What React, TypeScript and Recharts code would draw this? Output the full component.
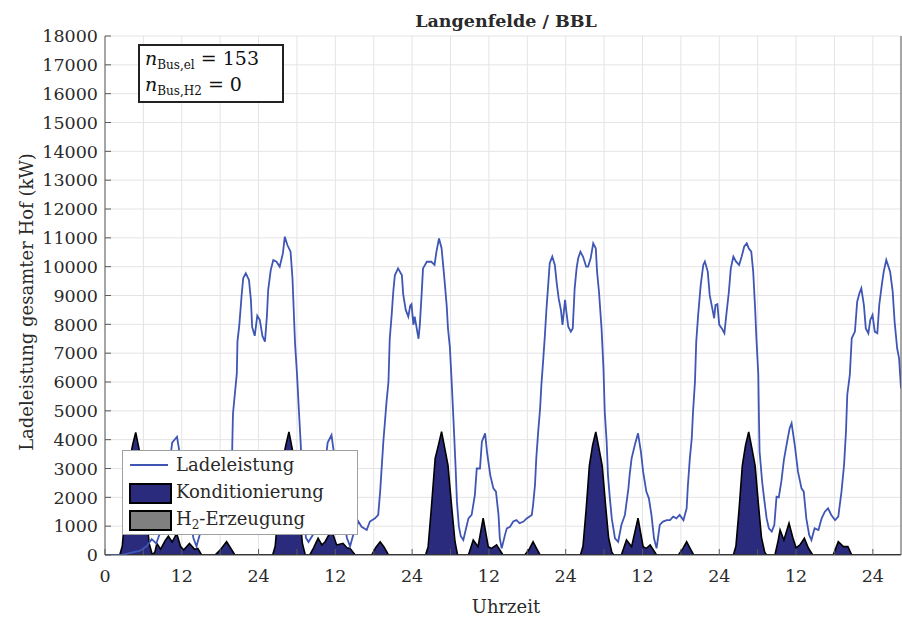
import React from "react";
import { ComposedChart, Line, Area, XAxis, YAxis, CartesianGrid } from "recharts";

// Ladeleistung (kW) over hours
const ladeHours = [
  0, 2.6, 5.5, 6.5, 7.3, 8.0, 8.5, 9.0, 9.6, 10.0, 10.5, 11.25, 11.7, 12.3, 12.8, 13.3, 13.8, 14.3, 14.8, 15.3,
  16.0, 17.0, 18.0, 19.0, 19.7, 19.9, 20.0, 20.3, 20.6, 20.7, 21.0, 21.35, 21.6, 22.0, 22.5, 22.8, 23.0, 23.4, 23.8, 24.2,
  24.6, 25.0, 25.3, 25.5, 25.9, 26.3, 26.8, 27.3, 27.8, 28.1, 28.5, 29.0, 29.3, 29.7, 30.0, 30.3, 30.6, 31.0, 31.4, 31.8,
  32.5, 33.0, 33.5, 33.9, 34.3, 34.8, 35.4, 35.8, 36.3, 36.8, 37.3, 37.8, 38.3, 38.8, 39.6, 40.1, 40.9, 41.4, 42.2, 42.7,
  43.0, 43.2, 43.5, 43.75, 44.0, 44.3, 44.5, 44.8, 45.05, 45.3, 45.8, 46.4, 46.6, 47.0, 47.4, 47.7, 47.9, 48.2, 48.4, 49.0,
  49.2, 49.5, 49.7, 50.3, 51.0, 51.5, 51.8, 52.2, 52.6, 53.0, 53.4, 53.6, 53.9, 54.2, 54.5, 54.8, 55.0, 55.3, 55.6, 56.0,
  56.8, 57.3, 57.8, 58.1, 58.6, 58.9, 59.4, 59.7, 60.2, 60.7, 61.1, 61.5, 61.7, 62.0, 62.5, 62.8, 63.3, 63.8, 64.3, 64.8,
  65.4, 65.9, 66.7, 66.9, 67.2, 67.4, 67.7, 68.0, 68.2, 68.5, 68.75, 69.0, 69.3, 69.5, 69.9, 70.3, 70.6, 70.9, 71.25, 71.5,
  71.9, 72.1, 72.4, 72.8, 73.1, 73.4, 73.7, 73.95, 74.3, 74.7, 75.2, 75.5, 75.9, 76.3, 76.7, 76.9, 77.2, 77.6, 77.9, 78.1,
  78.4, 78.6, 78.9, 79.2, 79.7, 80.2, 80.7, 81.25, 81.8, 82.0, 82.3, 82.8, 83.3, 83.75, 84.1, 84.6, 85.0, 85.4, 85.8, 86.2,
  86.7, 87.2, 87.8, 88.3, 88.8, 89.3, 89.8, 90.4, 90.9, 91.1, 91.4, 91.7, 91.9, 92.2, 92.4, 92.7, 93.1, 93.5, 93.75, 94.2,
  94.5, 94.9, 95.2, 95.4, 95.7, 96.0, 96.4, 96.8, 97.1, 97.5, 97.8, 98.2, 98.6, 99.1, 99.5, 99.9, 100.3, 100.6, 101.0, 101.3,
  101.6, 101.8, 102.1, 102.2, 102.3, 102.7, 103.0, 103.4, 103.75, 104.2, 104.6, 104.95, 105.3, 105.7, 106.1, 106.5, 107.0, 107.3, 107.8, 108.3,
  108.85, 109.2, 109.6, 110.05, 110.4, 110.9, 111.5, 112.0, 112.5, 113.0, 113.5, 114.1, 114.6, 115.1, 115.5, 115.8, 116.0, 116.4, 116.7, 117.2,
  117.55, 117.9, 118.2, 118.6, 118.9, 119.3, 119.6, 119.95, 120.3, 120.7, 121.0, 121.4, 121.7, 122.1, 122.7, 123.1, 123.4, 123.8, 124.1, 124.4,
];
const ladeKW = [
  0, 0, 150, 300, 550, 400, 700, 1300, 2000, 3000, 3900, 4100, 3500, 2700, 2250, 1400, 600, 300, 700, 1000,
  1100, 1200, 1250, 1350, 1500, 3900, 4900, 5600, 6300, 7400, 8000, 9000, 9600, 9770, 9540, 8850, 7900, 7600, 8300, 8150,
  7600, 7400, 8270, 9190, 9880, 10230, 10170, 10000, 10460, 11040, 10750, 10520, 9600, 7340, 6300, 5030, 3800, 1500, 600, 450,
  700, 1000, 1400, 2100, 3000, 3900, 4160, 3500, 2800, 2300, 1400, 600, 300, 700, 1160, 980, 870, 1160, 1270, 1390,
  2200, 2890, 3930, 4620, 5320, 6010, 7500, 8320, 9130, 9700, 9940, 9700, 9050, 8500, 8270, 8650, 8700, 7980, 8270, 7500,
  7980, 9110, 9940, 10170, 10170, 10060, 10520, 10980, 10640, 9690, 8650, 7860, 7200, 5900, 4500, 3000, 1850, 1000, 650, 520,
  1270, 1390, 2080, 3000, 3000, 3930, 4220, 3580, 2780, 2310, 2200, 1390, 580, 230, 690, 925, 980, 1160, 1210, 1100,
  1160, 1270, 1390, 1730, 2430, 3350, 4280, 5090, 5900, 6820, 7630, 8560, 9480, 10120, 10350, 10060, 9420, 8900, 8500, 7980,
  8850, 8440, 7920, 7750, 7860, 9250, 9940, 10290, 10520, 10350, 10000, 10000, 10290, 10810, 10640, 9830, 9130, 7860, 6480, 4970,
  3930, 2780, 1970, 1270, 580, 460, 1040, 1390, 2310, 2800, 3350, 3815, 4220, 3585, 2890, 2200, 1965, 1390, 580, 230,
  1040, 1160, 1210, 1210, 1330, 1270, 1390, 1210, 1620, 2430, 3350, 4050, 4970, 6010, 7400, 8330, 9370, 10060, 10180, 9830,
  9020, 8560, 8210, 8670, 8700, 7980, 7860, 7690, 8330, 9130, 9940, 10350, 10180, 10060, 10350, 10700, 10810, 10640, 10520, 9830,
  8560, 7520, 6250, 4740, 3590, 2540, 1970, 1270, 925, 810, 1040, 2020, 2000, 2550, 3300, 3800, 4400, 4570, 3815, 2890,
  2312, 2197, 1272, 694, 520, 925, 867, 1272, 1503, 1618, 1387, 1213, 1330, 2197, 3122, 4277, 5549, 6245, 7515, 7747,
  8786, 9076, 9250, 8671, 7860, 7690, 8152, 8325, 7747, 7690, 8671, 9365, 9827, 10232, 9827, 9134, 8094, 7170, 6822, 5780,
];

// Konditionierung (kW)
const kondHours = [
  0, 2.3, 2.7, 3.2, 3.8, 4.3, 4.8, 5.3, 5.8, 6.4, 6.9, 7.4, 7.8, 8.1, 8.7, 9.4, 9.9, 10.5, 11.2, 11.8,
  12.3, 13.2, 14.0, 14.5, 15.1, 17.2, 18.1, 19.0, 19.6, 20.3, 26.2, 26.6, 27.1, 27.7, 28.25, 28.75, 29.25, 29.75, 30.35, 30.85,
  31.3, 32.0, 32.6, 33.3, 33.9, 34.4, 35.4, 36.2, 37.2, 37.8, 38.3, 39.1, 41.7, 42.3, 43.0, 43.6, 44.3, 50.1, 50.5, 51.0,
  51.6, 52.1, 52.6, 53.1, 53.6, 54.2, 54.7, 55.1, 56.8, 57.55, 58.3, 59.1, 59.9, 60.4, 61.2, 62.2, 65.6, 66.3, 66.9, 67.4,
  68.0, 74.3, 74.7, 75.2, 75.7, 76.2, 76.7, 77.2, 77.7, 78.2, 78.7, 79.2, 79.5, 80.7, 81.5, 82.3, 83.3, 84.1, 84.6, 85.2,
  86.2, 89.6, 90.3, 90.9, 91.4, 92.0, 98.2, 98.6, 99.1, 99.6, 100.1, 100.6, 101.1, 101.6, 102.1, 102.6, 103.1, 103.4, 104.7, 105.2,
  105.5, 106.1, 106.9, 107.5, 108.0, 108.6, 109.3, 109.9, 110.6, 113.8, 114.6, 115.4, 116.1, 116.7, 124.4,
];
const kondKW = [
  0, 0, 300, 1600, 3200, 3800, 4250, 3700, 3100, 1600, 400, 0, 100, 400, 200, 500, 650, 450, 750, 300,
  170, 400, 200, 230, 0, 0, 200, 460, 250, 0, 0, 300, 1600, 3200, 3800, 4270, 3700, 3100, 1600, 400,
  0, 0, 250, 580, 350, 460, 870, 350, 405, 250, 230, 0, 0, 250, 460, 280, 0, 0, 290, 1620,
  3350, 3800, 4280, 3700, 3120, 1620, 460, 0, 0, 520, 290, 1280, 290, 230, 350, 0, 0, 200, 460, 250,
  0, 0, 300, 1600, 3100, 3800, 4270, 3700, 3100, 1800, 600, 100, 0, 0, 520, 290, 1280, 290, 230, 350,
  0, 0, 220, 460, 250, 0, 0, 300, 1600, 3100, 3800, 4270, 3700, 3100, 1800, 600, 100, 0, 0, 500,
  870, 520, 1100, 600, 250, 350, 580, 250, 0, 0, 460, 290, 290, 0, 0,
];

// H2-Erzeugung (kW)
const h2Hours = [0, 124.4];
const h2KW = [0, 0];

const xTicks = [0, 6, 12, 18, 24, 30, 36, 42, 48, 54, 60, 66, 72, 78, 84, 90, 96, 102, 108, 114, 120];
const xLabelHours = [0, 12, 24, 36, 48, 60, 72, 84, 96, 108, 120];
const xLabelTexts = ["0", "12", "24", "12", "24", "12", "24", "12", "24", "12", "24"];
const yTicks = [0, 1000, 2000, 3000, 4000, 5000, 6000, 7000, 8000, 9000, 10000, 11000, 12000, 13000, 14000, 15000, 16000, 17000, 18000];

const X_MAX = 124.4;
const FONT = "'DejaVu Serif', 'Liberation Serif', serif";
const TXT = "#2a2a2a";
const NAVY = "#2b2b7e";
const BLUE = "#3f56b5";
const AXIS = "#5a5a5a";

function buildTable() {
  const m = new Map<number, any>();
  const put = (hs: number[], vs: number[], key: string) => {
    hs.forEach((h, i) => {
      const r = m.get(h) ?? { h };
      r[key] = vs[i];
      m.set(h, r);
    });
  };
  put(ladeHours, ladeKW, "lade");
  put(kondHours, kondKW, "kond");
  put(h2Hours, h2KW, "h2");
  return Array.from(m.values()).sort((a, b) => a.h - b.h);
}
const table = buildTable();

const fmtX = (v: number) => {
  const i = xLabelHours.indexOf(v);
  return i >= 0 ? xLabelTexts[i] : "";
};

export default function App() {
  const tickStyle = { fill: TXT, fontSize: 17.5, fontFamily: FONT };
  return (
    <div style={{ position: "absolute", left: 0, top: 0, width: 902, height: 619, background: "#fff" }}>
      <ComposedChart width={902} height={619} data={table} margin={{ top: 36, right: 0, bottom: 0, left: 0 }}>
        <CartesianGrid stroke="#e4e4e4" strokeWidth={1} />
        <XAxis
          dataKey="h"
          type="number"
          domain={[0, X_MAX]}
          ticks={xTicks}
          interval={0}
          tickFormatter={fmtX}
          height={64}
          tickSize={-6}
          tickMargin={21}
          stroke={AXIS}
          tick={tickStyle}
          allowDataOverflow
        />
        <XAxis
          xAxisId="top"
          orientation="top"
          dataKey="h"
          type="number"
          domain={[0, X_MAX]}
          ticks={xTicks}
          interval={0}
          height={0}
          tick={false}
          tickSize={-6}
          stroke={AXIS}
          allowDataOverflow
        />
        <YAxis
          type="number"
          domain={[0, 18000]}
          ticks={yTicks}
          interval={0}
          width={105}
          tickSize={-6}
          tickMargin={13}
          stroke={AXIS}
          tick={tickStyle}
          allowDataOverflow
        />
        <YAxis
          yAxisId="right"
          orientation="right"
          type="number"
          domain={[0, 18000]}
          ticks={yTicks}
          interval={0}
          width={1}
          tick={false}
          tickSize={-6}
          stroke={AXIS}
          allowDataOverflow
        />
        <Area
          type="linear"
          dataKey="kond"
          fill={NAVY}
          fillOpacity={1}
          stroke="#000"
          strokeWidth={1.6}
          connectNulls
          isAnimationActive={false}
          dot={false}
          activeDot={false}
        />
        <Area
          type="linear"
          dataKey="h2"
          fill="#808080"
          fillOpacity={1}
          stroke="#000"
          strokeWidth={1.6}
          connectNulls
          isAnimationActive={false}
          dot={false}
          activeDot={false}
        />
        <Line
          type="linear"
          dataKey="lade"
          stroke={BLUE}
          strokeWidth={1.8}
          connectNulls
          dot={false}
          activeDot={false}
          isAnimationActive={false}
        />
      </ComposedChart>
      <svg
        width={902}
        height={619}
        style={{ position: "absolute", left: 0, top: 0, pointerEvents: "none" }}
        fontFamily={FONT}
      >
        <text x={506} y={27} textAnchor="middle" fontSize={17.5} fontWeight="bold" fill={TXT}>
          Langenfelde / BBL
        </text>
        <text x={506} y={613} textAnchor="middle" fontSize={18} fill={TXT}>
          Uhrzeit
        </text>
        <text transform="translate(33,302) rotate(-90)" textAnchor="middle" fontSize={18} fill={TXT}>
          Ladeleistung gesamter Hof (kW)
        </text>

        <rect x={139} y={45} width={144} height={57} fill="#fff" stroke="#222" strokeWidth={2} />
        <text x={145} y={65} fontSize={19} fill="#111">
          <tspan fontStyle="italic">n</tspan>
          <tspan fontSize={12} dy={4}>Bus,el</tspan>
          <tspan dy={-4}> = 153</tspan>
        </text>
        <text x={145} y={91} fontSize={19} fill="#111">
          <tspan fontStyle="italic">n</tspan>
          <tspan fontSize={12} dy={4}>Bus,H2</tspan>
          <tspan dy={-4}> = 0</tspan>
        </text>

        <rect x={122.5} y={450.5} width={235} height={84} fill="#fff" stroke="#a0a0a0" strokeWidth={1} />
        <line x1={130} x2={168} y1={465} y2={465} stroke={BLUE} strokeWidth={2} />
        <text x={176} y={471} fontSize={18} fill={TXT}>
          Ladeleistung
        </text>
        <rect x={130} y={484} width={41} height={19} fill={NAVY} stroke="#000" strokeWidth={2} />
        <text x={176} y={498} fontSize={18} fill={TXT}>
          Konditionierung
        </text>
        <rect x={130} y={511} width={41} height={19} fill="#808080" stroke="#000" strokeWidth={2} />
        <text x={176} y={525} fontSize={18} fill={TXT}>
          H<tspan fontSize={12} dy={4}>2</tspan>
          <tspan dy={-4}>-Erzeugung</tspan>
        </text>
      </svg>
    </div>
  );
}
